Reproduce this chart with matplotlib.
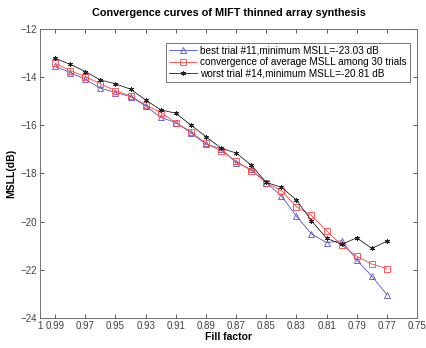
import matplotlib
matplotlib.use("Agg")
import matplotlib.pyplot as plt

plt.rcParams["font.family"] = ["Liberation Sans", "DejaVu Sans"]

# fill factor for each iteration step
fill = [0.99, 0.98, 0.97, 0.96, 0.95, 0.94, 0.93, 0.92, 0.91, 0.90, 0.89, 0.88,
        0.87, 0.86, 0.85, 0.84, 0.83, 0.82, 0.81, 0.80, 0.79, 0.78, 0.77]

best = [-13.56, -13.81, -14.09, -14.46, -14.64, -14.81, -15.20, -15.67, -15.89,
        -16.31, -16.79, -16.97, -17.55, -17.83, -18.38, -18.93, -19.77, -20.51,
        -20.87, -20.79, -21.59, -22.26, -23.03]
average = [-13.43, -13.73, -13.98, -14.28, -14.57, -14.78, -15.16, -15.47, -15.89,
           -16.26, -16.75, -17.05, -17.49, -17.88, -18.38, -18.71, -19.38, -19.74,
           -20.38, -20.97, -21.43, -21.76, -21.95]
worst = [-13.22, -13.47, -13.77, -14.12, -14.28, -14.50, -14.95, -15.36, -15.50,
         -15.99, -16.47, -16.95, -17.15, -17.65, -18.37, -18.57, -19.10, -19.96,
         -20.69, -20.94, -20.67, -21.11, -20.81]

xticks = [1, 0.99, 0.97, 0.95, 0.93, 0.91, 0.89, 0.87, 0.85, 0.83, 0.81, 0.79, 0.77, 0.75]
xticklabels = ["1", "0.99", "0.97", "0.95", "0.93", "0.91", "0.89", "0.87", "0.85",
               "0.83", "0.81", "0.79", "0.77", "0.75"]
yticks = [-24, -22, -20, -18, -16, -14, -12]

fig = plt.figure(figsize=(4.26, 3.48), dpi=100)
ax = fig.add_axes([0.094, 0.086, 0.885, 0.831])

ax.plot(fill, best, color="#5555c8", linewidth=0.6, marker="^", markersize=5,
        markerfacecolor="none", markeredgewidth=0.6,
        label="best trial #11,minimum MSLL=-23.03 dB")
ax.plot(fill, average, color="#f04848", linewidth=0.6, marker="s", markersize=5,
        markerfacecolor="none", markeredgewidth=0.6,
        label="convergence of average MSLL among 30 trials")
ax.plot(fill, worst, color="#222222", linewidth=0.6, marker=(6, 2, 0), markersize=3.5,
        markeredgewidth=0.7,
        label="worst trial #14,minimum MSLL=-20.81 dB")

ax.set_xlim(1, 0.75)
ax.set_ylim(-24, -12)
ax.set_xticks(xticks)
ax.set_xticklabels(xticklabels)
ax.set_yticks(yticks)
ax.tick_params(direction="in", top=True, right=True, labelsize=7, colors="#404040",
               length=3, width=0.6, pad=2)
for s in ax.spines.values():
    s.set_color("#707070")
    s.set_linewidth(0.7)

ax.set_title("Convergence curves of MIFT thinned array synthesis",
             fontsize=7.8, fontweight="bold", pad=9)
ax.set_xlabel("Fill factor", fontsize=7.5, fontweight="bold", labelpad=1)
ax.set_ylabel("MSLL(dB)", fontsize=7.5, fontweight="bold", labelpad=3)

leg = ax.legend(loc="upper right", bbox_to_anchor=(0.981, 0.952), borderaxespad=0,
                fontsize=7.2, frameon=True, fancybox=False,
                borderpad=0.3, labelspacing=0.15, handlelength=2.8,
                handletextpad=0.3)
leg.get_frame().set_edgecolor("#505050")
leg.get_frame().set_linewidth(0.7)

fig.savefig("out.png", dpi=100)
